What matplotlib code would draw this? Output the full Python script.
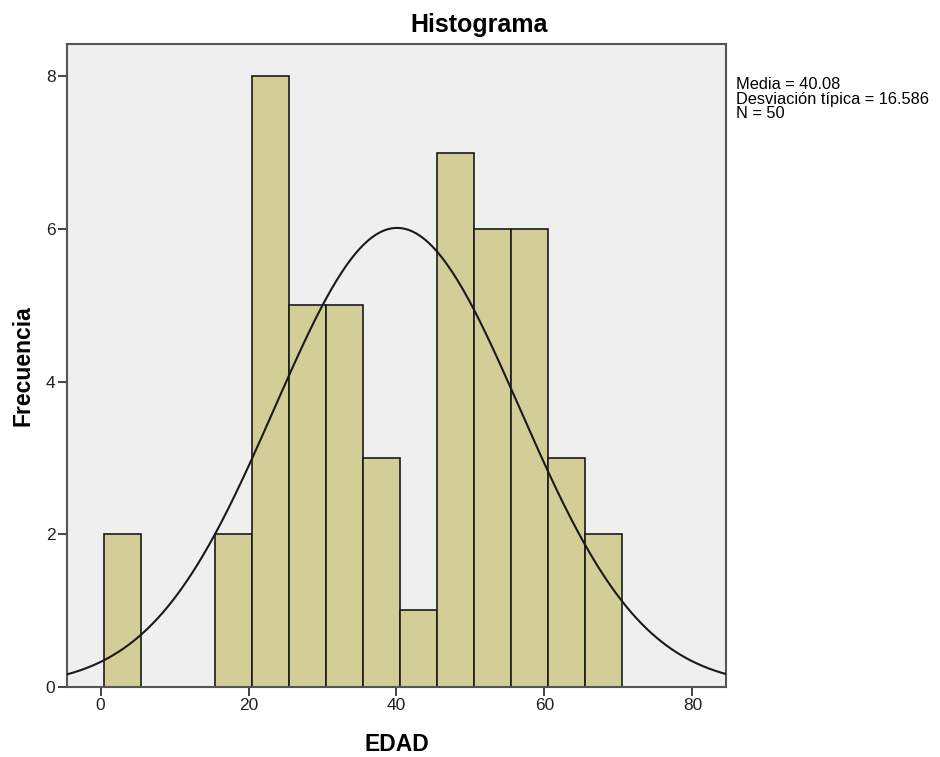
import numpy as np
import matplotlib
import matplotlib.pyplot as plt

matplotlib.use("Agg")

plt.rcParams["font.family"] = ["Liberation Sans", "DejaVu Sans"]

# histogram bins (width 5) and counts
bin_left = [0.5, 15.5, 20.5, 25.5, 30.5, 35.5, 40.5, 45.5, 50.5, 55.5, 60.5, 65.5]
counts = [2, 2, 8, 5, 5, 3, 1, 7, 6, 6, 3, 2]
bin_width = 5
mean = 40.08
std = 16.586
n = 50

fig = plt.figure(figsize=(9.4, 7.57), dpi=100)
ax = fig.add_axes([0.0716, 0.0929, 0.7004, 0.8486])
ax.set_facecolor("#efefef")

ax.bar(bin_left, counts, width=bin_width, align="edge",
       color="#d3ce98", edgecolor="#1a1a1a", linewidth=1.2, zorder=2)

x = np.linspace(-4.5, 84.5, 400)
y = n * bin_width * np.exp(-0.5 * ((x - mean) / std) ** 2) / (std * np.sqrt(2 * np.pi))
ax.plot(x, y, color="#1a1a1a", linewidth=1.5, zorder=3)

ax.set_xlim(-4.5, 84.5)
ax.set_ylim(0, 8.42)
ax.set_xticks([0, 20, 40, 60, 80])
ax.set_yticks([0, 2, 4, 6, 8])
ax.tick_params(direction="out", length=6.5, width=1.2, labelsize=12.5,
               colors="#222222", pad=2)
for s in ax.spines.values():
    s.set_color("#555555")
    s.set_linewidth(1.5)

fig.text(0.51, 0.967, "Histograma", fontsize=18, fontweight="bold",
         ha="center", va="center")
ax.set_xlabel("EDAD", fontsize=16.5, fontweight="bold", labelpad=14)
ax.set_ylabel("Frecuencia", fontsize=16.5, fontweight="bold", labelpad=8)

fig.text(0.783, 0.898, "Media = 40.08\nDesviación típica = 16.586\nN = 50",
         fontsize=11.8, va="top", ha="left", linespacing=0.95)

fig.savefig("out.png", dpi=100)
